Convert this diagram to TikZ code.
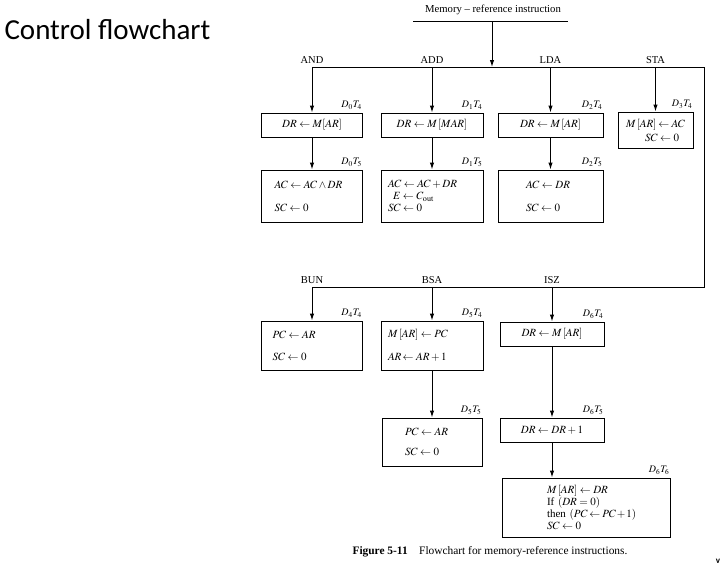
\documentclass[tikz,border=0pt]{standalone}
\usepackage{mathptmx}
\usepackage{fontspec}
\setmainfont{Liberation Serif}
\newfontfamily\slidefont{Carlito}
\usetikzlibrary{arrows.meta,positioning}
\relpenalty=10000
\binoppenalty=10000

\tikzset{
    boxfont/.style={font=\fontsize{11}{12}\selectfont},
    opbox/.style={draw, line width=1pt, inner ysep=0pt, align=center, boxfont},
    leftbox/.style={opbox, align=left},
    tlabel/.style={anchor=south east, inner sep=1pt, yshift=2pt, font=\fontsize{10}{11}\selectfont},
    oplabel/.style={anchor=south, inner sep=1pt, yshift=2pt, font=\fontsize{10.5}{12}\selectfont},
    flow/.style={line width=1pt, -{Latex[length=7pt,width=4.5pt]}},
    bus/.style={line width=1pt}
}

\begin{document}
\begin{tikzpicture}[x=1pt, y=-1pt]
    \useasboundingbox (0,0) rectangle (727,570);

    % Slide title
    \node[anchor=west, font=\slidefont\fontsize{29}{34}\selectfont] (title) at (1,30) {Control flowchart};

    % Entry from decoder
    \node[font=\fontsize{10.7}{12}\selectfont] (memref) at (493,10) {Memory -- reference instruction};
    \coordinate (memL) at (413,21);
    \coordinate (memR) at (568,21);
    \coordinate (memtap) at (492,21);
    \coordinate (membus) at (492,67);
    \draw[bus] (memL) -- (memR);
    \draw[flow] (memtap) -- (membus);

    % Bus to the instructions
    \coordinate (andtap) at (312,67);
    \coordinate (addtap) at (432,67);
    \coordinate (ldatap) at (550.5,67);
    \coordinate (statap) at (655.5,67);
    \coordinate (busR) at (704,67);
    \coordinate (busRB) at (704,287);
    \coordinate (buntap) at (312,287);
    \coordinate (bsatap) at (432,287);
    \coordinate (isztap) at (552,287);
    \draw[bus] (andtap) -- (busR) -- (busRB) -- (buntap);

    \node[oplabel] (andlbl) at (andtap) {AND};
    \node[oplabel] (addlbl) at (addtap) {ADD};
    \node[oplabel] (ldalbl) at (ldatap) {LDA};
    \node[oplabel] (stalbl) at (statap) {STA};
    \node[oplabel] (bunlbl) at (buntap) {BUN};
    \node[oplabel] (bsalbl) at (bsatap) {BSA};
    \node[oplabel] (iszlbl) at (isztap) {ISZ};

    % First row: AND, ADD, LDA, STA
    \node[opbox, minimum width=101pt, minimum height=24pt] (andA) at (312,125) {$DR \leftarrow M[AR]$};
    \node[opbox, minimum width=102pt, minimum height=24pt] (addA) at (432,125) {$DR \leftarrow M\,[MAR]$};
    \node[opbox, minimum width=105pt, minimum height=24pt] (ldaA) at (550.5,125) {$DR \leftarrow M\,[AR]$};
    \node[leftbox, text width=59pt, inner xsep=8pt, minimum height=36pt] (staA) at (655.5,130)
        {$M\,[AR] \leftarrow AC$\\[2pt]\hspace*{19pt}$SC \leftarrow 0$};

    \node[leftbox, text width=75pt, inner xsep=13pt, minimum height=52pt] (andB) at (312,196)
        {$AC \leftarrow AC \wedge DR$\\[11pt]$SC \leftarrow 0$};
    \node[leftbox, text width=88pt, inner xsep=7pt, minimum height=52pt] (addB) at (432,196)
        {$AC \leftarrow AC + DR$\\\hspace*{5pt}$E \leftarrow C_{\mathrm{out}}$\\$SC \leftarrow 0$};
    \node[leftbox, text width=49pt, inner xsep=28pt, minimum height=52pt] (ldaB) at (550.5,196)
        {$AC \leftarrow DR$\\[11pt]$SC \leftarrow 0$};

    \node[tlabel] (andAt) at (andA.north east) {$D_0T_4$};
    \node[tlabel] (addAt) at (addA.north east) {$D_1T_4$};
    \node[tlabel] (ldaAt) at (ldaA.north east) {$D_2T_4$};
    \node[tlabel] (staAt) at (staA.north east) {$D_3T_4$};
    \node[tlabel] (andBt) at (andB.north east) {$D_0T_5$};
    \node[tlabel] (addBt) at (addB.north east) {$D_1T_5$};
    \node[tlabel] (ldaBt) at (ldaB.north east) {$D_2T_5$};

    \draw[flow] (andtap) -- (andA);
    \draw[flow] (addtap) -- (addA);
    \draw[flow] (ldatap) -- (ldaA);
    \draw[flow] (statap) -- (staA);
    \draw[flow] (andA) -- (andB);
    \draw[flow] (addA) -- (addB);
    \draw[flow] (ldaA) -- (ldaB);

    % Second part: BUN, BSA, ISZ
    \node[leftbox, text width=79pt, inner xsep=11pt, minimum height=49pt] (bunA) at (312,345.5)
        {$PC \leftarrow AR$\\[10pt]$SC \leftarrow 0$};
    \node[leftbox, text width=88pt, inner xsep=7pt, minimum height=49pt] (bsaA) at (432,345.5)
        {$M\,[AR] \leftarrow PC$\\[11pt]$AR\!\leftarrow AR + 1$};
    \node[opbox, minimum width=104pt, minimum height=24pt] (iszA) at (552,334) {$DR \leftarrow M\,[AR]$};

    \node[leftbox, text width=54pt, inner xsep=23pt, minimum height=48pt] (bsaB) at (432,442)
        {$PC \leftarrow AR$\\[8pt]$SC \leftarrow 0$};
    \node[opbox, minimum width=104pt, minimum height=24pt] (iszB) at (552,430) {$DR \leftarrow DR + 1$};
    \node[leftbox, text width=78pt, inner xsep=45pt, minimum height=59pt] (iszC) at (586,507.5)
        {$M\,[AR] \leftarrow DR$\\If~$(DR = 0)$\\then~$(PC \leftarrow PC + 1)$\\$SC \leftarrow 0$};

    \node[tlabel] (bunAt) at (bunA.north east) {$D_4T_4$};
    \node[tlabel] (bsaAt) at (bsaA.north east) {$D_5T_4$};
    \node[tlabel] (iszAt) at (iszA.north east) {$D_6T_4$};
    \node[tlabel] (bsaBt) at (bsaB.north east) {$D_5T_5$};
    \node[tlabel] (iszBt) at (iszB.north east) {$D_6T_5$};
    \node[tlabel] (iszCt) at (iszC.north east) {$D_6T_6$};

    \draw[flow] (buntap) -- (bunA);
    \draw[flow] (bsatap) -- (bsaA);
    \draw[flow] (isztap) -- (iszA);
    \draw[flow] (bsaA) -- (bsaB);
    \draw[flow] (iszA) -- (iszB);
    \draw[flow] (iszB) -- (iszB |- iszC.north);

    % Caption
    \node[font=\fontsize{11.4}{13}\selectfont] (caption) at (490,552)
        {\textbf{Figure 5-11}\quad Flowchart for memory-reference instructions.};
    \node[font=\slidefont\bfseries\fontsize{9}{9}\selectfont] (pagemark) at (718,561) {v};
\end{tikzpicture}
\end{document}
